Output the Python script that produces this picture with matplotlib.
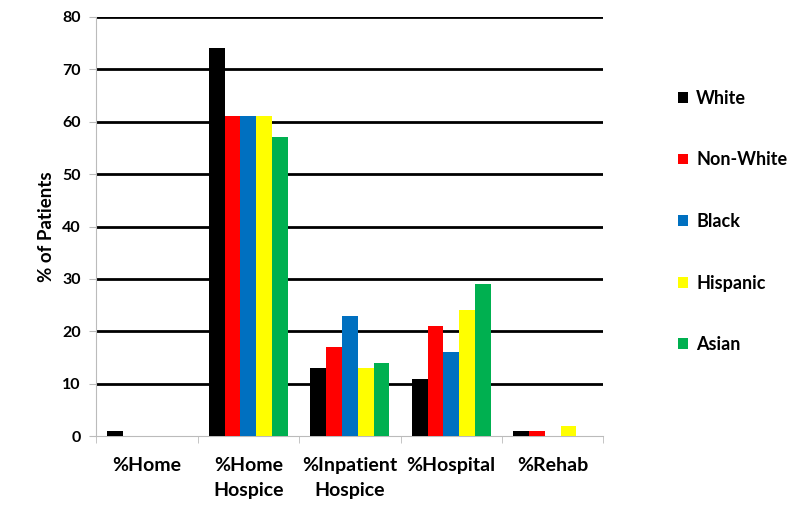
import numpy as np
import matplotlib
matplotlib.use("Agg")
import matplotlib.pyplot as plt

plt.rcParams['font.family'] = ['Lato', 'DejaVu Sans']
plt.rcParams['font.weight'] = 'bold'

categories = ['%Home', '%Home\nHospice', '%Inpatient\nHospice', '%Hospital', '%Rehab']
groups = ['White', 'Non-White', 'Black', 'Hispanic', 'Asian']
white = [1, 74, 13, 11, 1]
non_white = [0, 61, 17, 21, 1]
black = [0, 61, 23, 16, 0]
hispanic = [0, 61, 13, 24, 2]
asian = [0, 57, 14, 29, 0]
colors = ['#000000', '#ff0000', '#0070c0', '#ffff00', '#00b050']

series = [white, non_white, black, hispanic, asian]

fig = plt.figure(figsize=(7.95, 5.12), dpi=100)
ax = fig.add_axes([0.121, 0.148, 0.638, 0.819])

x = np.arange(len(categories))
w = 0.156
for i, (vals, name, c) in enumerate(zip(series, groups, colors)):
    ax.bar(x + (i - 2) * w, vals, width=w, color=c, label=name, zorder=3)

ax.set_ylim(0, 80)
ax.set_xlim(-0.5, len(categories) - 0.5)
ax.set_yticks(range(0, 81, 10))
for v in range(10, 81, 10):
    ax.axhline(v, color='black', lw=2, zorder=1)

ax.set_xticks(x)
ax.set_xticklabels(categories, fontsize=14, fontweight='bold', linespacing=1.55)
ax.set_xticks(np.arange(-0.5, len(categories)), minor=True)
ax.tick_params(axis='x', which='major', length=0, pad=15)
ax.tick_params(axis='x', which='minor', length=5, color='#bbbbbb')
ax.tick_params(axis='y', length=5, color='#bbbbbb', labelsize=11.5, pad=6)
for lab in ax.get_yticklabels():
    lab.set_fontweight('bold')

for s in ['top', 'right']:
    ax.spines[s].set_visible(False)
ax.spines['left'].set_color('#bbbbbb')
ax.spines['bottom'].set_color('#bbbbbb')

ax.set_ylabel('% of Patients', fontsize=13.5, fontweight='bold', labelpad=5)

ax.legend(loc='upper left', bbox_to_anchor=(1.115, 0.865), frameon=False,
          handlelength=0.55, handleheight=0.55, handletextpad=0.45,
          labelspacing=2.47, prop={'weight': 'bold', 'size': 13})

fig.savefig('out.png', dpi=100)
